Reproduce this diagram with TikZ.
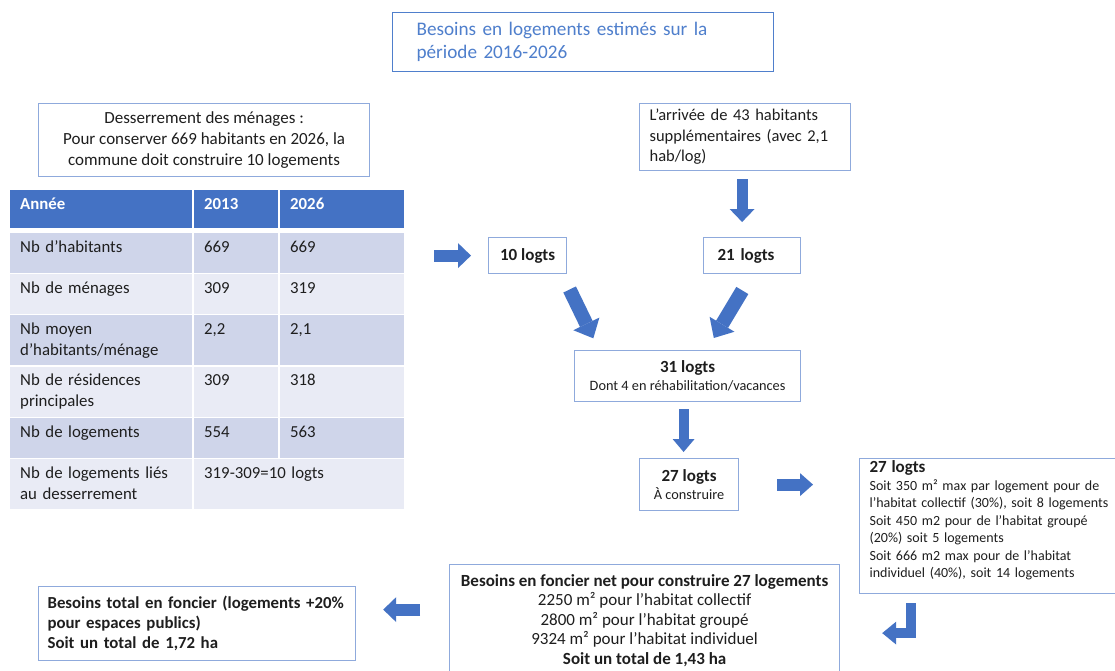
\documentclass[tikz,border=0pt]{standalone}
\usepackage{fontspec}
\setmainfont{Carlito}
\usepackage{tikz}
\usetikzlibrary{arrows.meta}

\definecolor{arrowblue}{HTML}{4472C4}
\definecolor{boxblue}{HTML}{8FAADC}
\definecolor{titleblue}{HTML}{4F7FCC}
\definecolor{rowdark}{HTML}{CFD5EA}
\definecolor{rowlight}{HTML}{E9EBF5}
\definecolor{textdark}{HTML}{1E1E1E}

\begin{document}
\begin{tikzpicture}[x=1pt, y=-1pt,
	box/.style = {draw=boxblue, line width=1.2pt, anchor=north west, text=textdark, inner sep=0pt, font=\fontsize{17}{20}\selectfont},
	cell/.style = {anchor=north west, inner xsep=10pt, inner ysep=0pt, text height=19pt, align=left, text=textdark, font=\fontsize{16.8}{21}\selectfont},
	head/.style = {fill=arrowblue, text=white, text depth=19pt, font=\fontsize{16.8}{21}\selectfont\bfseries},
	shortrow/.style = {text depth=20.5pt},
	tallrow/.style = {text depth=31pt},
	colA/.style = {text width=162pt},
	colB/.style = {text width=64pt},
	colC/.style = {text width=104pt},
	blockarrow/.style = {draw=arrowblue, line width=12pt, -{Triangle[length=13pt,width=25pt,line width=0pt]}},
	bigarrow/.style = {draw=arrowblue, line width=14pt, -{Triangle[length=16pt,width=29pt,line width=0pt]}}]
			\fill[white] (0,0) rectangle (1115,671);
			\useasboundingbox (0,0) rectangle (1115,671);
			
			\node[box, draw=titleblue, minimum width=381pt, minimum height=59pt, text width=333pt, inner xsep=24pt, align=left, text=titleblue, font=\fontsize{19.2}{23}\selectfont] (titre) at (392,12) {Besoins en logements estimés sur la\\période 2016-2026};
			\node[box, minimum width=331pt, minimum height=73pt, align=center, font=\fontsize{17}{21}\selectfont] (dess) at (38,103) {Desserrement des ménages :\\Pour conserver 669 habitants en 2026, la\\commune doit construire 10 logements};
			
			\begin{scope}[every node/.style={cell}]
				\node[head, colA] (h1) at (10,190) {Année};
				\node[head, colB] (h2) at (194,190) {2013};
				\node[head, colC] (h3) at (280,190) {2026};
				\node[shortrow, colA, fill=rowdark] (r1a) at (10,233) {Nb d’habitants};
				\node[shortrow, colB, fill=rowdark] (r1b) at (194,233) {669};
				\node[shortrow, colC, fill=rowdark] (r1c) at (280,233) {669};
				\node[shortrow, colA, fill=rowlight] (r2a) at (10,274) {Nb de ménages};
				\node[shortrow, colB, fill=rowlight] (r2b) at (194,274) {309};
				\node[shortrow, colC, fill=rowlight] (r2c) at (280,274) {319};
				\node[tallrow, colA, fill=rowdark] (r3a) at (10,315) {Nb moyen\\d’habitants/ménage};
				\node[tallrow, colB, fill=rowdark] (r3b) at (194,315) {2,2};
				\node[tallrow, colC, fill=rowdark] (r3c) at (280,315) {2,1};
				\node[tallrow, colA, fill=rowlight] (r4a) at (10,366.5) {Nb de résidences\\principales};
				\node[tallrow, colB, fill=rowlight] (r4b) at (194,366.5) {309};
				\node[tallrow, colC, fill=rowlight] (r4c) at (280,366.5) {318};
				\node[shortrow, colA, fill=rowdark] (r5a) at (10,418) {Nb de logements};
				\node[shortrow, colB, fill=rowdark] (r5b) at (194,418) {554};
				\node[shortrow, colC, fill=rowdark] (r5c) at (280,418) {563};
				\node[tallrow, colA, fill=rowlight] (r6a) at (10,459) {Nb de logements liés\\au desserrement};
				\node[tallrow, text width=190pt, fill=rowlight] (r6b) at (194,459) {319-309=10 logts};
			\end{scope}
			
			\node[box, minimum width=211pt, minimum height=67pt, text width=191pt, inner xsep=10pt, align=left, font=\fontsize{16.5}{20.5}\selectfont] (arrivee) at (639,103) {L’arrivée de 43 habitants\\supplémentaires (avec 2,1\\hab/log)};
			\node[box, minimum width=78pt, minimum height=36pt, font=\fontsize{17}{20}\selectfont\bfseries] (dix) at (488,237) {10 logts};
			\node[box, minimum width=97pt, minimum height=36pt, text width=69pt, inner xsep=14pt, align=left, font=\fontsize{17}{20}\selectfont\bfseries] (vingt) at (703,237) {21 logts};
			\node[box, minimum width=226pt, minimum height=51pt, align=center, font=\fontsize{14.3}{18}\selectfont] (trente) at (574,350) {{\fontsize{17}{18}\selectfont\bfseries 31 logts}\\Dont 4 en réhabilitation/vacances};
			\node[box, minimum width=99pt, minimum height=52pt, align=center, font=\fontsize{14.3}{18}\selectfont] (vingtsept) at (639,458) {{\fontsize{17}{18}\selectfont\bfseries 27 logts}\\À construire};
			\node[box, minimum width=280pt, text height=14pt, text depth=121pt, text width=260pt, inner xsep=10pt, align=left, font=\fontsize{14}{17.5}\selectfont] (detail) at (859,458) {{\fontsize{17}{17.5}\selectfont\bfseries 27 logts}\\Soit 350 m² max par logement pour de\\l’habitat collectif (30\%), soit 8 logements\\Soit 450 m2 pour de l’habitat groupé\\(20\%) soit 5 logements\\Soit 666 m2 max pour de l’habitat\\individuel (40\%), soit 14 logements};
			\node[box, minimum width=390pt, minimum height=112pt, align=center, font=\fontsize{17}{19.5}\selectfont] (foncier) at (449,564) {\textbf{Besoins en foncier net pour construire 27 logements}\\2250 m² pour l’habitat collectif\\2800 m² pour l’habitat groupé\\9324 m² pour l’habitat individuel\\\textbf{Soit un total de 1,43 ha}};
			\node[box, minimum width=317pt, minimum height=74pt, text width=299pt, inner xsep=9pt, align=left, font=\fontsize{16.8}{20}\selectfont\bfseries] (total) at (38,586) {Besoins total en foncier (logements +20\%\\pour espaces publics)\\Soit un total de 1,72 ha};
			
			\draw[blockarrow, shorten <=30pt, shorten >=17pt] (dix.west -| h3.east) -- (dix.west);
			\draw[blockarrow, line width=11pt, shorten <=8pt, shorten >=15pt] ([xshift=-3pt]arrivee.south) -- ([xshift=-3pt]arrivee.south |- vingt.north);
			\draw[bigarrow, shorten <=17pt, shorten >=13pt] ([xshift=-5pt]dix.south east) -- ([xshift=25pt]trente.north west);
			\draw[bigarrow, shorten <=19pt, shorten >=14pt] (vingt.south) -- ([xshift=19pt]trente.north);
			\draw[blockarrow, line width=10pt, -{Triangle[length=13pt,width=22pt,line width=0pt]}, shorten <=7pt, shorten >=6pt] ([xshift=-4pt]trente.south) -- ([xshift=-4pt]trente.south |- vingtsept.north);
			\draw[blockarrow, -{Triangle[length=13pt,width=23pt,line width=0pt]}, shorten <=38pt, shorten >=46pt] (vingtsept.east) -- (vingtsept.east -| detail.west);
			\draw[blockarrow, line width=10pt, -{Triangle[length=14pt,width=23pt,line width=0pt]}] ([shift={(51.5,9)}]detail.south west) |- ([shift={(42,12.5)}]foncier.east);
			\draw[blockarrow, shorten <=29pt, shorten >=27pt] ([yshift=11pt]foncier.west) -- ([yshift=11pt]foncier.west -| total.east);
		\end{tikzpicture}
\end{document}
